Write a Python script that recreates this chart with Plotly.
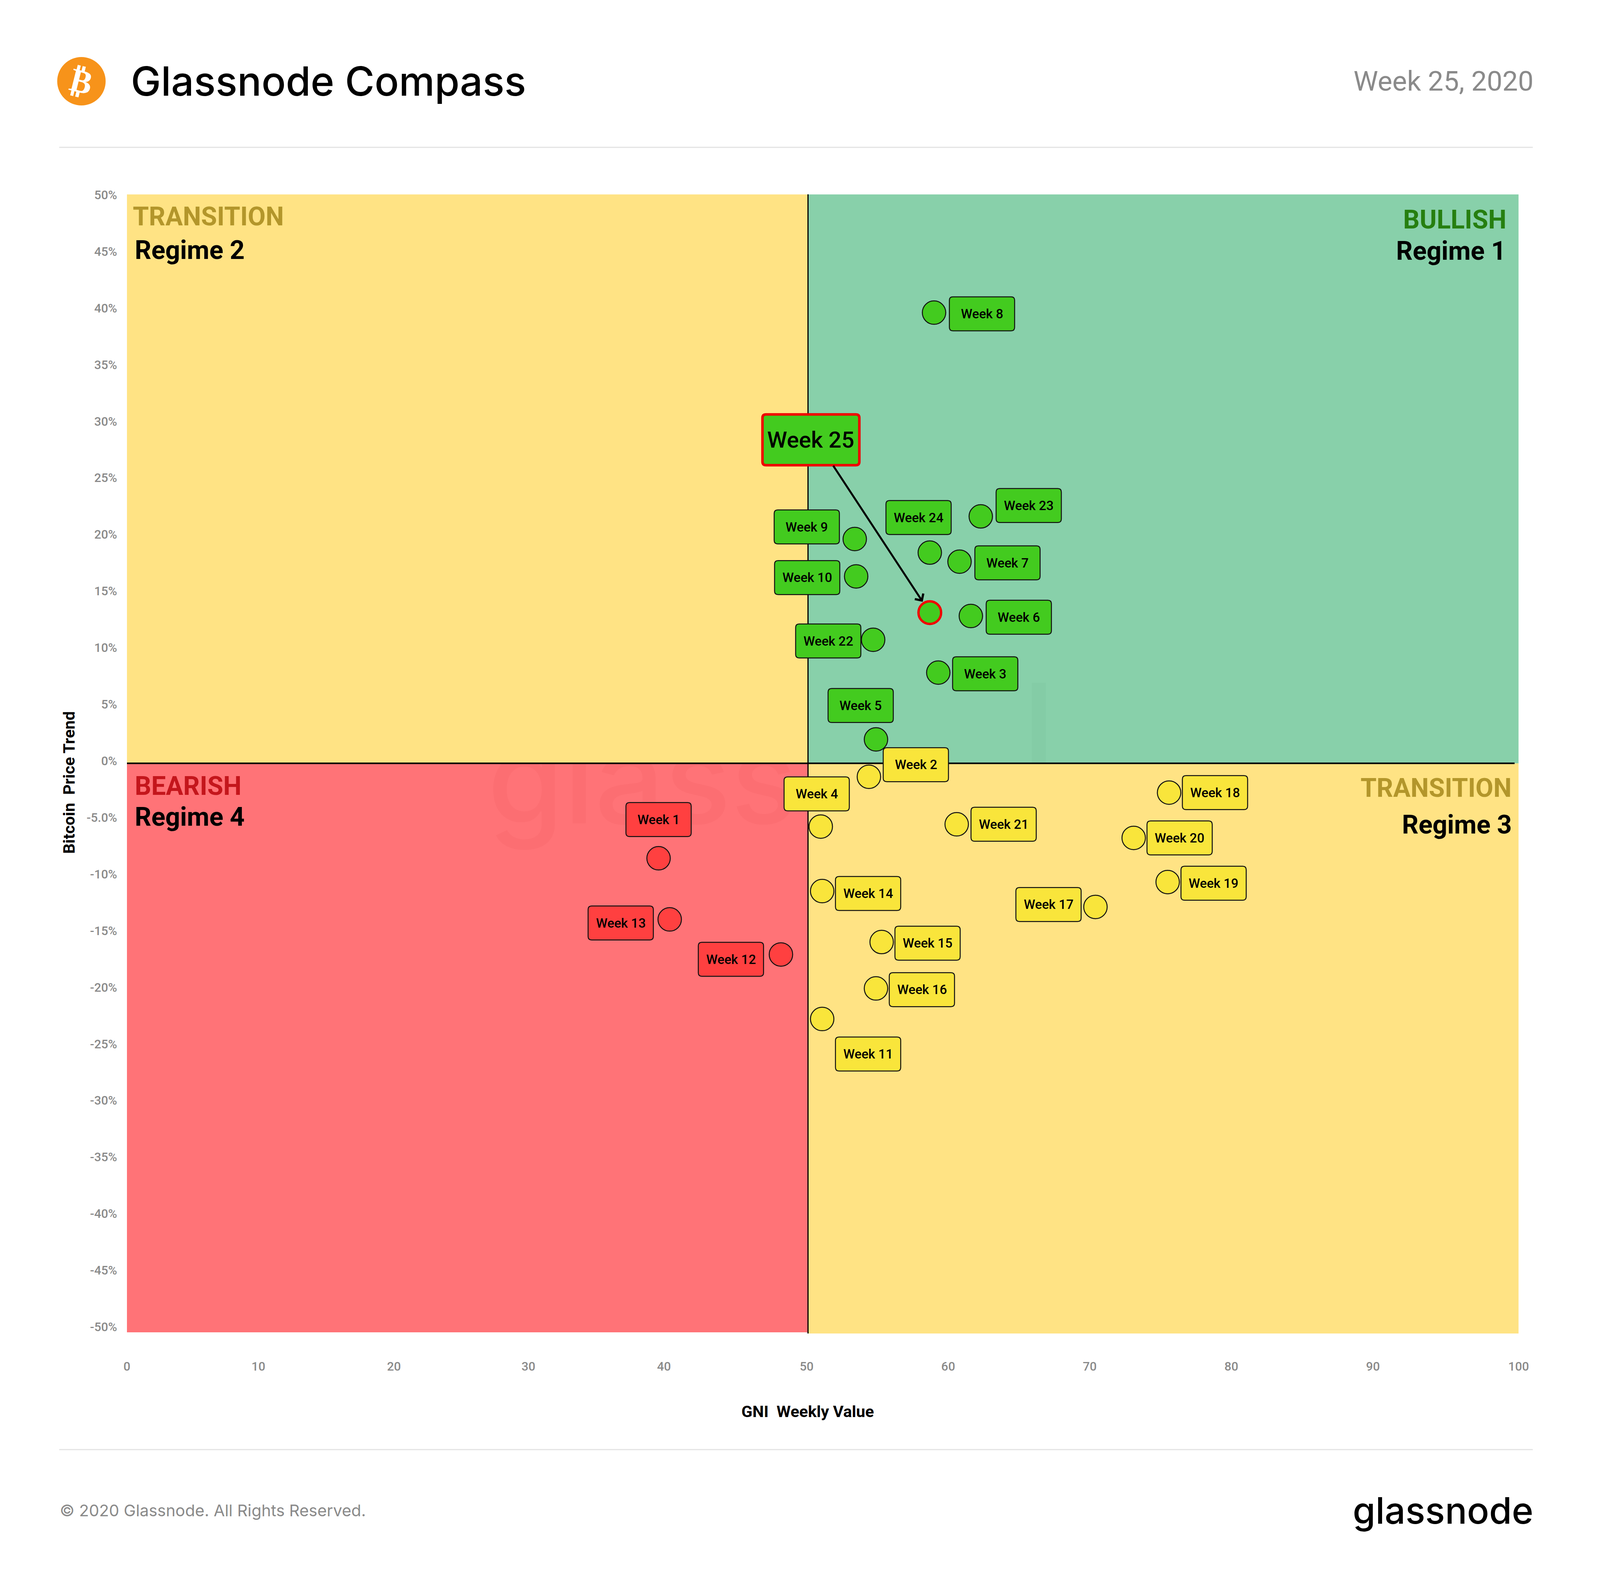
import numpy as np
import plotly.graph_objects as go

# browser window is really 4096x4040 and body keeps its 8px margin
W = 4080
H = 4024
PAGE_W = 4096.0
PAGE_H = 4040.0
VIEW_W = 1568.0    # layout below is measured on a 1568 wide view of the reference
VIEW_H = 1305.6
SX = PAGE_W / VIEW_W
SY = PAGE_H / VIEW_H
F = 0.92           # fonts, between the x and y squeeze

# ---- chart values
weeks = [1, 2, 3, 4, 5, 6, 7, 8, 9, 10, 11, 12, 13, 14, 15, 16, 17, 18, 19, 20, 21, 22, 23, 24, 25]
gni_value = [39.6, 54.4, 59.3, 51.0, 54.9, 61.6, 60.8, 59.0, 53.4, 53.5, 51.1, 48.2, 40.4,
             51.1, 55.3, 54.9, 70.4, 75.6, 75.5, 73.1, 60.6, 54.7, 62.3, 58.7, 58.7]
price_trend = [-8.6, -1.4, 7.8, -5.8, 1.9, 12.8, 17.6, 39.6, 19.6, 16.3, -22.8, -17.1, -14.0,
               -11.5, -16.0, -20.1, -12.9, -2.8, -10.7, -6.8, -5.6, 10.7, 21.6, 18.4, 13.1]

x_tick_labels = [0, 10, 20, 30, 40, 50, 60, 70, 80, 90, 100]
y_tick_labels = [50, 45, 40, 35, 30, 25, 20, 15, 10, 5, 0, -5, -10, -15, -20, -25, -30, -35, -40, -45, -50]

# ---- layout: the x axis of the original is not evenly spaced, so ticks have their own places
x_tick_px = [122, 252, 386, 519, 653, 794, 934, 1074, 1214, 1354, 1498]
x_tick_pos = [(p - 122) / 13.76 for p in x_tick_px]

# label box centre relative to its point, in view pixels
label_dx = [0, 46, 46, -4, -15, 47, 47, 47, -47, -48, 45, -49, -48,
            45, 45, 45, -46, 45, 45, 45, 46, -44, 47, -11]
label_dy = [-32, -10, 1, -27, -28, 1, 1, 1, -10, 1, 29, 4, 3,
            2, 1, 1, -2, 0, 1, 0, 0, 1, -9, -29]

GREEN, YELLOW, RED = '#43CB1F', '#F9E53B', '#FF4040'
Q_GREEN, Q_YELLOW, Q_RED = '#88D0AA', '#FFE384', '#FF7377'


def px(x):
    return (x * SX - 8) / W


def py(y):
    return 1 - (y * SY - 8) / H


def to_axis(v):
    return float(np.interp(v, x_tick_labels, x_tick_pos))


def regime_color(gni, trend):
    if gni >= 50:
        return GREEN if trend >= 0 else YELLOW
    return RED


xs = [to_axis(v) for v in gni_value]
colors = [regime_color(g, t) for g, t in zip(gni_value, price_trend)]

x_mid = to_axis(50.1)
y_mid = -0.21
y_top = 50.05
y_bot = -50.58
x_right = (1494 - 122) / 13.76


def box(x, y, dx, dy, w, h, color, line_color='#111111', line_width=2.5, r=9):
    # rounded box sized in pixels, hung on the data point
    cx, cy = dx * SX, -dy * SY
    x0, x1, y0, y1 = cx - w / 2, cx + w / 2, cy - h / 2, cy + h / 2
    path = (f'M{x0+r},{y0} L{x1-r},{y0} Q{x1},{y0} {x1},{y0+r} L{x1},{y1-r} Q{x1},{y1} {x1-r},{y1} '
            f'L{x0+r},{y1} Q{x0},{y1} {x0},{y1-r} L{x0},{y0+r} Q{x0},{y0} {x0+r},{y0} Z')
    return dict(type='path', xref='x', yref='y', xsizemode='pixel', ysizemode='pixel',
                xanchor=x, yanchor=y, path=path, fillcolor=color, layer='above',
                line=dict(color=line_color, width=line_width))


def rect(x0, x1, y0, y1, color, layer='below'):
    return dict(type='rect', xref='x', yref='y', x0=x0, x1=x1, y0=y0, y1=y1,
                fillcolor=color, line=dict(width=0), layer=layer)


def text(x, y, s, size, color='#000000', font='Roboto', weight=400, xanchor='left', **kw):
    return dict(xref='paper', yref='paper', x=px(x), y=py(y), text=s, showarrow=False,
                xanchor=xanchor, yanchor='middle',
                font=dict(family=font, size=size * F, color=color, weight=weight), **kw)


shapes = [
    rect(0, x_mid, y_bot + 0.1, y_mid, Q_RED),
    rect(x_mid, 100, y_bot, y_mid, Q_YELLOW),
    rect(x_mid, 100, y_mid, y_top, Q_GREEN),
    # faint stem of the watermark that shows on the green side
    rect(to_axis(65.9), to_axis(66.9), y_mid, 6.9, 'rgba(60,140,100,0.05)'),
    # drawn over the watermark text so that it only shows on the red side
    rect(0, x_mid, y_mid, y_top, Q_YELLOW, layer='above'),
    dict(type='line', xref='x', yref='y', x0=x_mid, x1=x_mid, y0=y_bot - 0.1, y1=y_top + 0.2,
         line=dict(color='#000000', width=3), layer='above'),
    dict(type='line', xref='x', yref='y', x0=0, x1=x_right, y0=y_mid, y1=y_mid,
         line=dict(color='#000000', width=4), layer='above'),
    # header and footer
    dict(type='line', xref='paper', yref='paper', x0=px(55), x1=px(1512), y0=py(117), y1=py(117),
         line=dict(color='#e4e4e4', width=3)),
    dict(type='line', xref='paper', yref='paper', x0=px(55), x1=px(1512), y0=py(1199.5), y1=py(1199.5),
         line=dict(color='#e4e4e4', width=3)),
    dict(type='circle', xref='paper', yref='paper', xsizemode='pixel', ysizemode='pixel',
         xanchor=px(77), yanchor=py(62), x0=-62, x1=62, y0=-62, y1=62,
         fillcolor='#F7931A', line=dict(width=0)),
]

annotations = []
for i, wk in enumerate(weeks[:-1]):
    shapes.append(box(xs[i], price_trend[i], label_dx[i], label_dy[i], 167, 87, colors[i]))
    annotations.append(dict(xref='x', yref='y', x=xs[i], y=price_trend[i], xshift=label_dx[i] * SX,
                            yshift=-label_dy[i] * SY, text=f'Week {wk}', showarrow=False,
                            font=dict(family='Roboto', size=36 * F, color='#000000', weight=500)))

# current week gets the large red box and an arrow
shapes.append(box(xs[-1], price_trend[-1], -116.5, -143, 248, 130, GREEN, line_color='#F00000', line_width=6.5))
annotations.append(dict(xref='x', yref='y', x=xs[-1], y=price_trend[-1], xshift=-116.5 * SX, yshift=143 * SY,
                        text=f'Week {weeks[-1]}', showarrow=False,
                        font=dict(family='Roboto', size=58, color='#000000', weight=500)))
annotations.append(dict(xref='x', yref='y', x=xs[-1], y=price_trend[-1], axref='pixel', ayref='pixel',
                        ax=-95 * SX, ay=-122 * SY, text='', showarrow=True, arrowhead=4, arrowsize=1,
                        arrowwidth=5, arrowcolor='#000000', standoff=33))

annotations += [
    text(127, 174.5, 'TRANSITION', 72, '#B3962B', weight=700),
    text(129, 202.5, 'Regime 2', 72, weight=700),
    text(1487, 177, 'BULLISH', 72, '#267F10', weight=700, xanchor='right'),
    text(1486, 203, 'Regime 1', 72, weight=700, xanchor='right'),
    text(1492, 649.5, 'TRANSITION', 72, '#B3962B', weight=700, xanchor='right'),
    text(1492, 680, 'Regime 3', 72, weight=700, xanchor='right'),
    text(129, 648, 'BEARISH', 72, '#C4161C', weight=700),
    text(129, 673.5, 'Regime 4', 72, weight=700),
    text(125, 62, 'Glassnode Compass', 112, font='Inter', weight=500),
    text(1513.5, 62, 'Week 25, 2020', 77, '#8a8a8a', xanchor='right'),
    text(55, 1250, '\u00a9 2020 Glassnode. All Rights Reserved.', 45, '#8a8a8a', font='Inter'),
    text(1513, 1250, 'glassnode', 102, font='Inter', weight=500, xanchor='right'),
    text(77, 62, '\u20bf', 92, '#ffffff', font='DejaVu Sans', weight=700, xanchor='center', textangle=14),
    text(795, 1168, 'GNI&nbsp;&nbsp;Weekly Value', 45, weight=700, xanchor='center'),
    text(65, 645, 'Bitcoin&nbsp;&nbsp;Price Trend', 45, weight=700, xanchor='center', textangle=-90),
]

traces = [
    # watermark sits in the trace layer so the upper yellow panel can cover it
    go.Scatter(x=[to_axis(38.4)], y=[-2.8], mode='text', text=['glass'], textposition='middle center',
               textfont=dict(family='Inter', size=315, color='rgba(190,0,10,0.04)', weight=500),
               hoverinfo='skip', showlegend=False),
    go.Scatter(x=xs, y=price_trend, mode='markers', showlegend=False,
               text=[f'Week {wk}' for wk in weeks],
               marker=dict(size=[60] * (len(weeks) - 1) + [58], color=colors, opacity=1,
                           line=dict(color=['#111111'] * (len(weeks) - 1) + ['#F00000'],
                                     width=[2.5] * (len(weeks) - 1) + [6]))),
]

layout = go.Layout(
    width=W,
    height=H,
    margin=dict(l=0, r=0, t=0, b=0),
    autosize=False,
    paper_bgcolor='#ffffff',
    plot_bgcolor='#ffffff',
    showlegend=False,
    shapes=shapes,
    annotations=annotations,
    xaxis=dict(
        domain=[px(122), px(1498)],
        range=[0, 100],
        tickvals=x_tick_pos,
        ticktext=[str(v) for v in x_tick_labels],
        ticks='outside',
        ticklen=56,
        tickcolor='rgba(0,0,0,0)',
        tickfont=dict(family='Roboto', size=34 * F, color='#8a8a8a', weight=500),
        showgrid=False,
        zeroline=False,
        showline=False,
        fixedrange=True,
    ),
    yaxis=dict(
        domain=[py(1103), py(156)],
        range=[y_bot, y_top],
        tickvals=y_tick_labels,
        ticktext=['-5.0%' if v == -5 else f'{v}%' for v in y_tick_labels],
        ticks='outside',
        ticklen=18,
        tickcolor='rgba(0,0,0,0)',
        tickfont=dict(family='Roboto', size=34 * F, color='#8a8a8a', weight=500),
        showgrid=False,
        zeroline=False,
        showline=False,
        fixedrange=True,
    ),
)

fig = go.Figure(data=traces, layout=layout)
fig.write_html("out.html")
